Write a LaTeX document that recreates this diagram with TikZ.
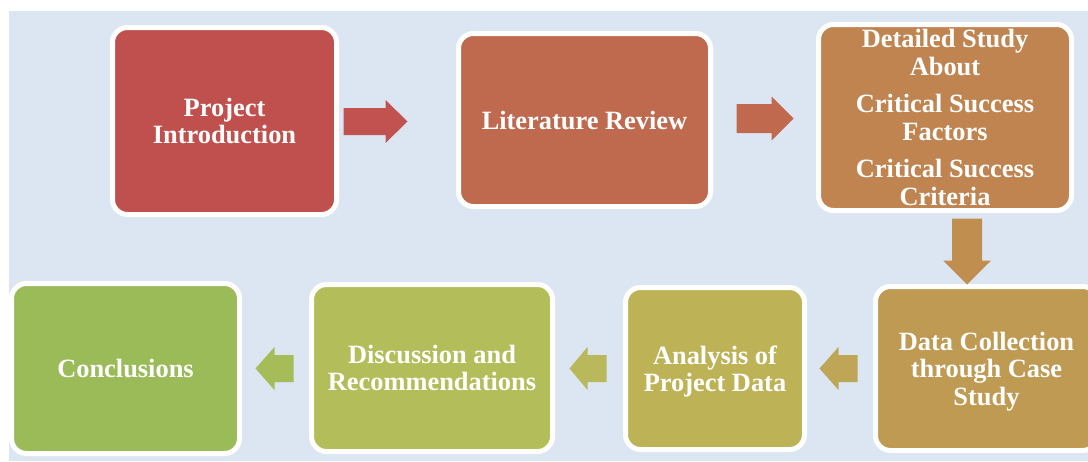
\documentclass[tikz,border=0pt]{standalone}
\usepackage{fontspec}
\setmainfont{Liberation Serif}
\usetikzlibrary{calc}

\definecolor{bgblue}{HTML}{DCE6F2}
\definecolor{cIntro}{HTML}{C0504D}
\definecolor{cLit}{HTML}{BF6A4E}
\definecolor{cStudy}{HTML}{BF8450}
\definecolor{cData}{HTML}{BE9A53}
\definecolor{cAnalysis}{HTML}{BEB256}
\definecolor{cDisc}{HTML}{B3BD5A}
\definecolor{cConcl}{HTML}{9BBB59}
\definecolor{aIntro}{HTML}{C2524F}
\definecolor{aLit}{HTML}{C0694F}
\definecolor{aStudy}{HTML}{C08F50}
\definecolor{aData}{HTML}{BEA656}
\definecolor{aAnalysis}{HTML}{B9B85A}
\definecolor{aDisc}{HTML}{A6BC59}

\begin{document}
\begin{tikzpicture}[x=1pt,y=-1pt,
  stage/.style={draw=white, line width=5pt, rounded corners=15pt,
    text=white, align=center, inner sep=0pt, text depth=0pt,
    font=\fontsize{26.4}{27.5}\selectfont\bfseries},
  % block arrow pointing along +x: length / shaft half width / head half width / head length
  pics/blockarrow/.style args={#1/#2/#3/#4}{code={
    \path[pic actions] (0,-#2) -- ({#1-#4},-#2) -- ({#1-#4},-#3) -- (#1,0)
      -- ({#1-#4},#3) -- ({#1-#4},#2) -- (0,#2) -- cycle;}}
]
\useasboundingbox (0,0) rectangle (1088,461);
\clip (0,0) rectangle (1088,461);
\fill[bgblue] (9,11) rectangle (1088,461);

% top row
\node[stage, fill=cIntro, minimum width=224pt, minimum height=187pt]
  (intro) at (224.5,121) {Project\\Introduction};
\node[stage, fill=cLit, minimum width=252pt, minimum height=173pt]
  (lit) at (584.5,120) {Literature Review};
\node[stage, fill=cStudy, minimum width=253pt, minimum height=186pt]
  (study) at (945,117.5) {Detailed Study\\About\\[10pt]Critical Success\\Factors\\[10pt]Critical Success\\Criteria};

% bottom row
\node[stage, fill=cData, minimum width=222pt, minimum height=164pt]
  (data) at (986.5,368.5) {Data Collection\\through Case\\Study};
\node[stage, fill=cAnalysis, minimum width=179pt, minimum height=162pt]
  (analysis) at (715,368.5) {Analysis of\\Project Data};
\node[stage, fill=cDisc, minimum width=241pt, minimum height=167pt]
  (disc) at (432,368) {Discussion and\\Recommendations};
\node[stage, fill=cConcl, minimum width=228pt, minimum height=170pt]
  (concl) at (125.5,368.5) {Conclusions};

% block arrows between the stages
\pic[fill=aIntro] at ($(intro.east)+(4.5,0.5)$) {blockarrow=64/13.5/21.5/22};
\pic[fill=aLit] at ($(lit.east)+(23.5,-1.5)$) {blockarrow=57/14.5/22/22};
\pic[fill=aStudy, rotate=-90] at ($(study.south)+(22,5.5)$) {blockarrow=66/15/24/24};
\pic[fill=aData, rotate=180] at ($(data.west)+(-15.5,0)$) {blockarrow=38/13.5/21.5/19};
\pic[fill=aAnalysis, rotate=180] at ($(analysis.west)+(-16.5,0)$) {blockarrow=37/13.5/21.5/18};
\pic[fill=aDisc, rotate=180] at ($(disc.west)+(-15.5,0.5)$) {blockarrow=38/13.5/21.5/19};
\end{tikzpicture}
\end{document}
